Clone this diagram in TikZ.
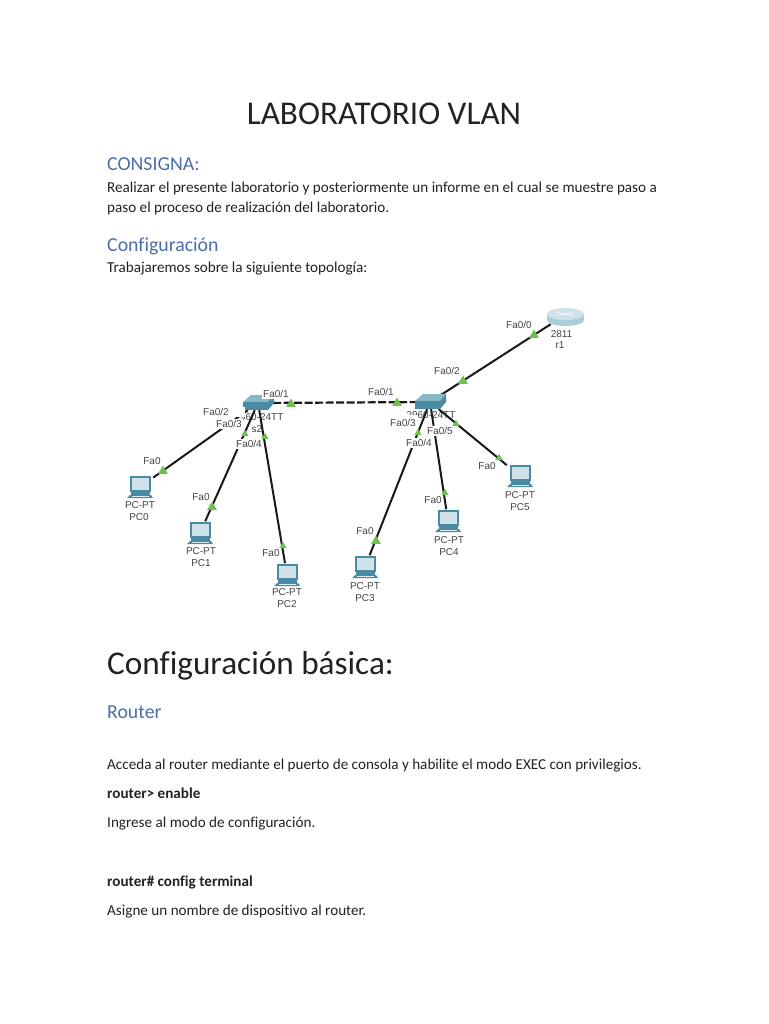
\documentclass[tikz,border=0pt]{standalone}
\usepackage{fontspec}
\setmainfont[Ligatures=NoCommon]{Carlito}
\newfontfamily\labelfont{Liberation Sans}
\usetikzlibrary{shapes.geometric}
\definecolor{headblue}{HTML}{4A6FA8}
\definecolor{bodyink}{HTML}{222222}
\definecolor{labelink}{HTML}{444444}
\definecolor{teal1}{HTML}{4A8AA3}
\definecolor{teal2}{HTML}{86B8CA}
\definecolor{screen}{HTML}{CFE2EA}
\definecolor{portgreen}{HTML}{6CC24A}
\tikzset{
  txt/.style={anchor=base west,inner sep=0pt,text=bodyink,font=\fontsize{15.15}{18}\selectfont},
  txtb/.style={txt,font=\fontsize{15.15}{18}\selectfont\bfseries},
  head/.style={anchor=base west,inner sep=0pt,text=headblue,font=\fontsize{19.8}{22}\selectfont},
  bighead/.style={anchor=base west,inner sep=0pt,text=bodyink,font=\fontsize{33.2}{40}\selectfont},
  devlabel/.style={inner sep=0pt,text=labelink,font=\labelfont\fontsize{10}{12}\selectfont},
  port/.style={devlabel,fill=white,inner xsep=1pt,inner ysep=1pt},
  pcbox/.style={inner sep=0pt,minimum width=26pt,minimum height=23pt},
  swbox/.style={inner sep=0pt,minimum width=30pt,minimum height=14pt},
  cable/.style={draw=black!90,line width=2pt},
  trunk/.style={cable,line width=2.2pt,dash pattern=on 8pt off 2.5pt},
  led/.style={regular polygon,regular polygon sides=3,fill=portgreen,inner sep=0pt,minimum size=11pt},
  smallled/.style={led,minimum size=8.5pt},
  pics/pcicon/.style={code={
    \fill[teal1] (-10,-11) rectangle (11,5);
    \fill[screen] (-8,-9) rectangle (9,3);
    \fill[teal1] (-9,5) rectangle (10,8);
    \fill[teal1] (-13,11) -- (-10,8) -- (11,8) -- (13,11) -- cycle;
    \fill[screen!70!white] (-8,9) rectangle (9,9.8);
  }},
  pics/swicon/.style={code={
    \fill[teal2] (-15,-1) -- (-7,-8) -- (16,-8) -- (10,-1) -- cycle;
    \fill[teal1] (-15,-1) -- (10,-1) -- (10,7) -- (-15,7) -- cycle;
    \fill[teal1] (10,-1) -- (16,-8) -- (16,0) -- (10,7) -- cycle;
  }},
  pics/routericon/.style={code={
    \fill[teal2!70!white] (0,3) ellipse[x radius=18.5,y radius=6];
    \fill[teal2!70!white] (-18.5,-3) rectangle (18.5,3);
    \fill[screen] (0,-3) ellipse[x radius=18.5,y radius=6];
    \draw[white,line width=.6pt] (-8,-4.5) -- (8,-1.5) (-8,-1.5) -- (8,-4.5);
  }},
}
\begin{document}
\begin{tikzpicture}[x=1pt,y=-1pt]
\useasboundingbox (0,0) rectangle (768,1024);
\fill[white] (0,0) rectangle (768,1024);

% document text
\node[anchor=base,inner sep=0pt,text=bodyink,font=\fontsize{33.2}{36}\selectfont] (title) at (384,125) {LABORATORIO VLAN};
\node[head] (consigna) at (107,171) {CONSIGNA:};
\node[txt] (l1) at (107,192.5) {Realizar el presente laboratorio y posteriormente un informe en el cual se muestre paso a};
\node[txt] (l2) at (107,213) {paso el proceso de realización del laboratorio.};
\node[head] (config) at (107,251.5) {Configuración};
\node[txt] (l3) at (107,272) {Trabajaremos sobre la siguiente topología:};
\node[bighead] (basica) at (107,674) {Configuración básica:};
\node[head] (router) at (107,718) {Router};
\node[txt] (l4) at (107,769) {Acceda al router mediante el puerto de consola y habilite el modo EXEC con privilegios.};
\node[txtb] (l5) at (107,798) {router> enable};
\node[txt] (l6) at (107,827) {Ingrese al modo de configuración.};
\node[txtb] (l7) at (107,886) {router\# config terminal};
\node[txt] (l8) at (107,915) {Asigne un nombre de dispositivo al router.};

% devices
\node[swbox] (s2) at (258,403) {};
\node[swbox] (s1) at (430,402) {};
\node[pcbox,minimum width=36pt,minimum height=18pt] (r1) at (565,315) {};
\node[pcbox] (pc0) at (140,487) {};
\node[pcbox] (pc1) at (200,533) {};
\node[pcbox] (pc2) at (287,575) {};
\node[pcbox] (pc3) at (365,567) {};
\node[pcbox] (pc4) at (448,521) {};
\node[pcbox] (pc5) at (520,476) {};

% device type labels under the cables
\node[devlabel] (s2type) at (259,417) {2960-24TT};
\node[devlabel] (s2name) at (257,429) {s2};
\node[devlabel] (s1type) at (431,415) {2960-24TT};

% cables
\draw[cable] (s2) -- (pc0);
\draw[cable] (s2) -- (pc1);
\draw[cable] (s2) -- (pc2);
\draw[cable] (s1) -- (pc3);
\draw[cable] (s1) -- (pc4);
\draw[cable] (s1) -- (pc5);
\draw[cable] (s1) -- (r1);
\draw[trunk] (s2) -- (s1);

% link lights
\node[led] (g1) at (291,404) {};
\node[led] (g2) at (397,403) {};
\node[led] (g3) at (534,335) {};
\node[led] (g4) at (463,381) {};
\node[led] (g5) at (163,471) {};
\node[led] (g6) at (212,507) {};
\node[smallled] (g7) at (283,546) {};
\node[led] (g8) at (376,541) {};
\node[smallled] (g9) at (445,493) {};
\node[smallled] (g10) at (499,458) {};
\node[smallled] (g11) at (456,424) {};
\node[smallled] (g12) at (245,434) {};
\node[smallled] (g13) at (265,437) {};
\node[smallled] (g14) at (418,433) {};

% icons
\pic at (258,403) {swicon};
\pic at (430,402) {swicon};
\pic at (565.5,317) {routericon};
\pic at (140,487) {pcicon};
\pic at (200,533) {pcicon};
\pic at (287,575) {pcicon};
\pic at (365,567) {pcicon};
\pic at (448,521) {pcicon};
\pic at (520,476) {pcicon};

% port labels
\node[port] (a1) at (276,394) {Fa0/1};
\node[port,inner xsep=16pt] (a2) at (216,412) {Fa0/2};
\node[port] (a3) at (229,424) {Fa0/3};
\node[port] (a4) at (249,444) {Fa0/4};
\node[port] (b1) at (381,392) {Fa0/1};
\node[port] (b2) at (447,371) {Fa0/2};
\node[port,inner ysep=4.5pt] (b3) at (403,423) {Fa0/3};
\node[port] (b5) at (440,431) {Fa0/5};
\node[port] (b4) at (419,443) {Fa0/4};
\node[port] (r0) at (519,325) {Fa0/0};
\node[port] (f0) at (152,461) {Fa0};
\node[port] (f1) at (201,497) {Fa0};
\node[port] (f2) at (271,553) {Fa0};
\node[port] (f3) at (365,531) {Fa0};
\node[port] (f4) at (433,500) {Fa0};
\node[port] (f5) at (487,466) {Fa0};

% names
\node[devlabel] (r1model) at (561.5,334) {2811};
\node[devlabel] (r1name) at (560,345) {r1};
\node[devlabel] (pc0a) at (140,505) {PC-PT};
\node[devlabel] (pc0b) at (139,517) {PC0};
\node[devlabel] (pc1a) at (201,551) {PC-PT};
\node[devlabel] (pc1b) at (201,563) {PC1};
\node[devlabel] (pc2a) at (287,592) {PC-PT};
\node[devlabel] (pc2b) at (287,604) {PC2};
\node[devlabel] (pc3a) at (365,586) {PC-PT};
\node[devlabel] (pc3b) at (365,598) {PC3};
\node[devlabel] (pc4a) at (449,540) {PC-PT};
\node[devlabel] (pc4b) at (449,552) {PC4};
\node[devlabel] (pc5a) at (520,495) {PC-PT};
\node[devlabel] (pc5b) at (520,507) {PC5};
\end{tikzpicture}
\end{document}
